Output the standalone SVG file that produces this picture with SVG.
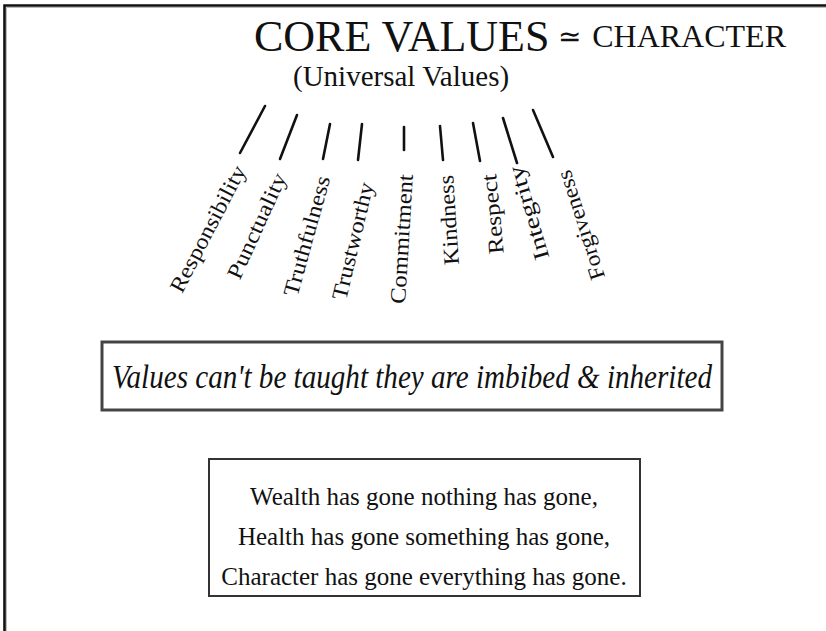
<svg xmlns="http://www.w3.org/2000/svg" width="826" height="631" viewBox="0 0 826 631">
<style>
.lbl{font-family:"Liberation Serif","Times New Roman",serif;font-size:22px;fill:#111;text-anchor:middle}
.tick{stroke:#111;stroke-width:2.6;stroke-linecap:round;fill:none}
.serif{font-family:"Liberation Serif","Times New Roman",serif;fill:#111}
.poem{font-family:"Liberation Serif","Times New Roman",serif;font-size:25px;fill:#111;text-anchor:middle}
</style>
<rect x="0" y="0" width="826" height="631" fill="#fff"/>
<g id="frame">
<path d="M4.5,631 V5.5 H826" fill="none" stroke="#111" stroke-width="2.6"/>
<path d="M6.5,631 V7.5 H826" fill="none" stroke="#bbb" stroke-width="1"/>
</g>
<g id="title">
<text class="serif" x="254" y="51" font-size="44">CORE VALUES</text>
<text class="serif" x="569" y="46" font-size="28" text-anchor="middle">≃</text>
<text class="serif" x="786" y="47" font-size="32" text-anchor="end">CHARACTER</text>
<text class="serif" x="293" y="86" font-size="29">(Universal Values)</text>
</g>
<g id="connectors">
<line class="tick" x1="240" y1="153" x2="265" y2="106"/>
<line class="tick" x1="280" y1="159" x2="297" y2="115"/>
<line class="tick" x1="323" y1="159" x2="330" y2="124"/>
<line class="tick" x1="358" y1="160" x2="362" y2="124"/>
<line class="tick" x1="404" y1="150" x2="404" y2="127"/>
<line class="tick" x1="443" y1="160" x2="440" y2="126"/>
<line class="tick" x1="480" y1="161" x2="473" y2="123"/>
<line class="tick" x1="517" y1="163" x2="503" y2="118"/>
<line class="tick" x1="553" y1="157" x2="533" y2="110"/>
</g>
<g id="responsibility"><text class="lbl" transform="translate(208,229) rotate(-62.5)" x="0" y="7" textLength="140" lengthAdjust="spacingAndGlyphs">Responsibility</text></g>
<g id="punctuality"><text class="lbl" transform="translate(257,226) rotate(-65.5)" x="0" y="7" textLength="114" lengthAdjust="spacingAndGlyphs">Punctuality</text></g>
<g id="truthfulness"><text class="lbl" transform="translate(307,236) rotate(-74.5)" x="0" y="7" textLength="124" lengthAdjust="spacingAndGlyphs">Truthfulness</text></g>
<g id="trustworthy"><text class="lbl" transform="translate(353,241) rotate(-76.6)" x="0" y="7" textLength="120" lengthAdjust="spacingAndGlyphs">Trustworthy</text></g>
<g id="commitment"><text class="lbl" transform="translate(402,239) rotate(-86.5)" x="0" y="7" textLength="130" lengthAdjust="spacingAndGlyphs">Commitment</text></g>
<g id="kindness"><text class="lbl" transform="translate(449,220) rotate(-93.7)" x="0" y="7" textLength="90" lengthAdjust="spacingAndGlyphs">Kindness</text></g>
<g id="respect"><text class="lbl" transform="translate(493,214) rotate(-95.6)" x="0" y="7" textLength="80" lengthAdjust="spacingAndGlyphs">Respect</text></g>
<g id="integrity"><text class="lbl" transform="translate(529,213) rotate(-106.5)" x="0" y="7" textLength="97" lengthAdjust="spacingAndGlyphs">Integrity</text></g>
<g id="forgiveness"><text class="lbl" transform="translate(581,225) rotate(-108)" x="0" y="7" textLength="114" lengthAdjust="spacingAndGlyphs">Forgiveness</text></g>
<g id="motto">
<rect x="102" y="342" width="620" height="68" fill="#fff" stroke="#444" stroke-width="3"/>
<text class="serif" x="412" y="388" font-size="33" font-style="italic" text-anchor="middle" textLength="600" lengthAdjust="spacingAndGlyphs">Values can't be taught they are imbibed &amp; inherited</text>
</g>
<g id="poem">
<rect x="209" y="459" width="431" height="137" fill="#fff" stroke="#333" stroke-width="2"/>
<text class="poem" x="424" y="505">Wealth has gone nothing has gone,</text>
<text class="poem" x="424" y="545">Health has gone something has gone,</text>
<text class="poem" x="424" y="585">Character has gone everything has gone.</text>
</g>
</svg>
